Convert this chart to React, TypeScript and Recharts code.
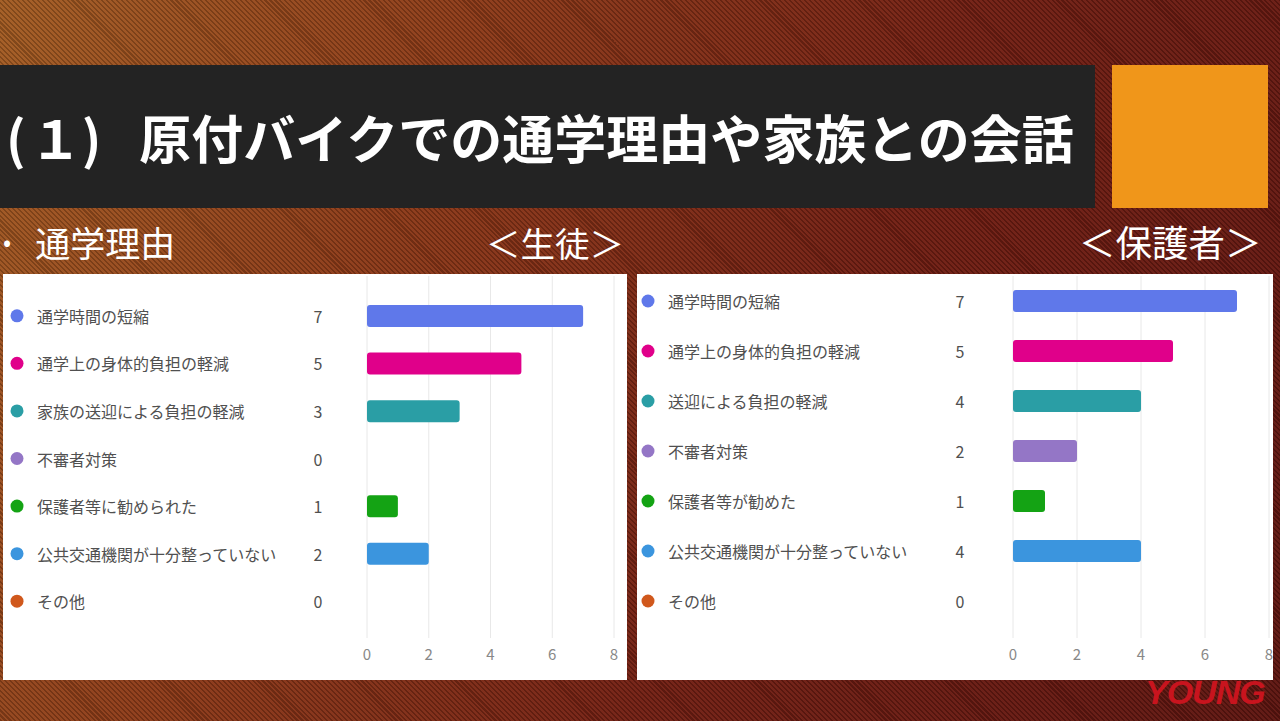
import React from "react";
import { BarChart, Bar, XAxis, YAxis, CartesianGrid, Cell } from "recharts";

const studentCategories = [
  "通学時間の短縮",
  "通学上の身体的負担の軽減",
  "家族の送迎による負担の軽減",
  "不審者対策",
  "保護者等に勧められた",
  "公共交通機関が十分整っていない",
  "その他",
];
const studentValues = [7, 5, 3, 0, 1, 2, 0];

const parentCategories = [
  "通学時間の短縮",
  "通学上の身体的負担の軽減",
  "送迎による負担の軽減",
  "不審者対策",
  "保護者等が勧めた",
  "公共交通機関が十分整っていない",
  "その他",
];
const parentValues = [7, 5, 4, 2, 1, 4, 0];

const barColors = ["#5f78ea", "#e0008a", "#2a9ea5", "#9476c6", "#14a314", "#3b95de", "#d0581c"];
const xTicks = [0, 2, 4, 6, 8];

const FONT = "'Noto Sans CJK JP', 'Noto Sans', sans-serif";

type PanelProps = {
  categories: string[];
  values: number[];
  width: number;
  height: number;
  axisWidth: number;
  rightMargin: number;
  padTop: number;
  padBottom: number;
  dotX: number;
  textX: number;
  valueX: number;
};

function Panel(p: PanelProps) {
  const data = p.categories.map((c, i) => ({ name: c, value: p.values[i] }));
  const renderTick = (props: any) => {
    const { y, payload } = props;
    const idx = payload.index;
    return (
      <g>
        <circle cx={p.dotX} cy={y} r={6.5} fill={barColors[idx]} />
        <text x={p.textX} y={y} dominantBaseline="central" fontSize={16} fill="#505050" fontFamily={FONT}>
          {payload.value}
        </text>
        <text x={p.valueX} y={y} dominantBaseline="central" textAnchor="middle" fontSize={16} fill="#505050" fontFamily={FONT}>
          {p.values[idx]}
        </text>
      </g>
    );
  };
  return (
    <BarChart
      width={p.width}
      height={p.height}
      data={data}
      layout="vertical"
      margin={{ top: 2, right: p.rightMargin, bottom: 0, left: 0 }}
    >
      <CartesianGrid horizontal={false} stroke="#e8e8e8" />
      <XAxis
        type="number"
        domain={[0, 8]}
        ticks={xTicks}
        axisLine={false}
        tickLine={false}
        tickSize={0}
        tickMargin={11}
        height={42}
        interval={0}
        tick={{ fontSize: 15, fill: "#888", fontFamily: FONT }}
      />
      <YAxis
        type="category"
        dataKey="name"
        width={p.axisWidth}
        axisLine={false}
        tickLine={false}
        padding={{ top: p.padTop, bottom: p.padBottom }}
        tick={renderTick}
        interval={0}
      />
      <Bar dataKey="value" barSize={22} radius={3} isAnimationActive={false}>
        {data.map((d, i) => (
          <Cell key={d.name} fill={barColors[i]} />
        ))}
      </Bar>
    </BarChart>
  );
}

export default function App() {
  return (
    <div
      style={{
        position: "absolute",
        left: 0,
        top: 0,
        width: 1280,
        height: 721,
        overflow: "hidden",
        fontFamily: FONT,
        background:
          "repeating-linear-gradient(45deg, rgba(0,0,0,0.2) 0px, rgba(0,0,0,0.2) 1.5px, rgba(255,255,255,0.03) 1.5px, rgba(255,255,255,0.03) 3.5px), linear-gradient(115deg, #a35c22 0%, #8d3a18 30%, #731f13 60%, #5e1510 100%)",
      }}
    >
      <div
        style={{
          position: "absolute",
          left: 0,
          top: 65,
          width: 1095,
          height: 143,
          background: "#232323",
          display: "flex",
          alignItems: "center",
        }}
      >
        <span style={{ color: "#fff", fontSize: 52, fontWeight: 700, whiteSpace: "nowrap", marginLeft: 6 }}>
          <span style={{ marginRight: 4 }}>(</span>１<span style={{ marginRight: 38 }}>)</span>原付バイクでの通学理由や家族との会話
        </span>
      </div>
      <div style={{ position: "absolute", left: 1112, top: 65, width: 156, height: 143, background: "#f0961a" }} />

      <div style={{ position: "absolute", left: 3, top: 219, color: "#fff", fontSize: 35, lineHeight: "46px", whiteSpace: "nowrap" }}>
        <span style={{ fontSize: 24, marginRight: 24, position: "relative", top: -6 }}>•</span>通学理由
      </div>
      <div style={{ position: "absolute", left: 486, top: 219, color: "#fff", fontSize: 34.5, lineHeight: "46px", whiteSpace: "nowrap" }}>
        ＜生徒＞
      </div>
      <div style={{ position: "absolute", left: 1079, top: 219, color: "#fff", fontSize: 36.5, lineHeight: "46px", whiteSpace: "nowrap" }}>
        ＜保護者＞
      </div>

      <div style={{ position: "absolute", left: 3, top: 274, width: 624, height: 406, background: "#fff" }}>
        <Panel
          categories={studentCategories}
          values={studentValues}
          width={624}
          height={406}
          axisWidth={364}
          rightMargin={13}
          padTop={16}
          padBottom={13}
          dotX={14}
          textX={34}
          valueX={315}
        />
      </div>
      <div style={{ position: "absolute", left: 637, top: 274, width: 636, height: 406, background: "#fff", overflow: "hidden" }}>
        <Panel
          categories={parentCategories}
          values={parentValues}
          width={636}
          height={406}
          axisWidth={376}
          rightMargin={4}
          padTop={0}
          padBottom={12}
          dotX={11}
          textX={31}
          valueX={323}
        />
      </div>

      <div
        style={{
          position: "absolute",
          left: 1145,
          top: 672,
          color: "#c8141e",
          fontSize: 34,
          fontWeight: 900,
          fontStyle: "italic",
          letterSpacing: -1,
          lineHeight: "40px",
          fontFamily: "'Liberation Sans', sans-serif",
        }}
      >
        YOUNG
      </div>
    </div>
  );
}
